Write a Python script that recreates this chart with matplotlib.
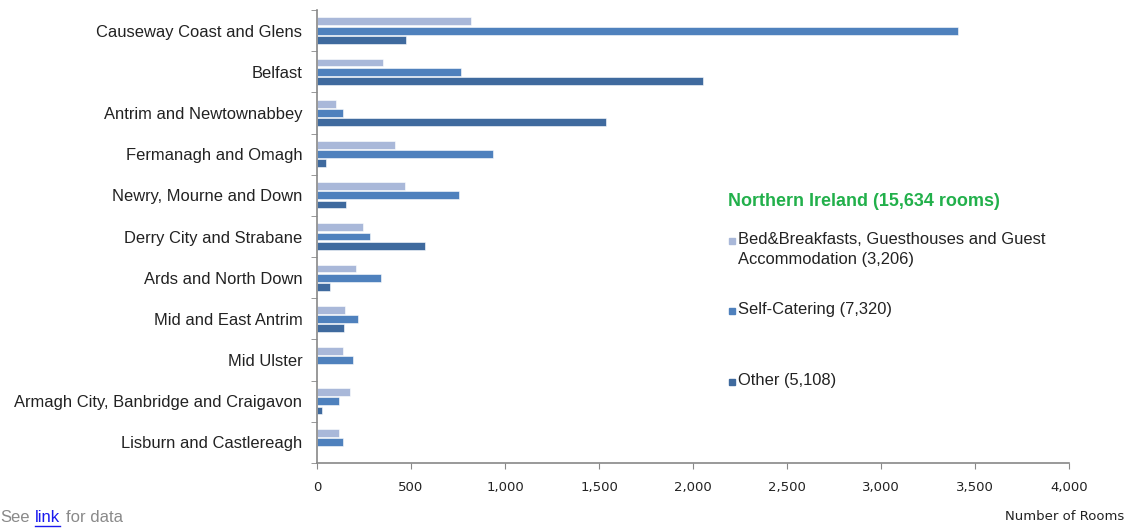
import matplotlib
matplotlib.use("Agg")
import matplotlib.pyplot as plt
from matplotlib.ticker import FuncFormatter
import numpy as np

plt.rcParams['font.family'] = ['Liberation Sans', 'DejaVu Sans']

councils = [
    "Causeway Coast and Glens", "Belfast", "Antrim and Newtownabbey",
    "Fermanagh and Omagh", "Newry, Mourne and Down", "Derry City and Strabane",
    "Ards and North Down", "Mid and East Antrim", "Mid Ulster",
    "Armagh City, Banbridge and Craigavon", "Lisburn and Castlereagh",
]
bnb = [819, 351, 101, 415, 466, 245, 209, 149, 138, 174, 115]
self_catering = [3410, 766, 138, 936, 754, 282, 342, 218, 191, 117, 138]
other = [472, 2052, 1537, 48, 154, 574, 69, 142, 0, 28, 0]

series_labels = [
    "Bed&Breakfasts, Guesthouses and Guest\nAccommodation (3,206)",
    "Self-Catering (7,320)",
    "Other (5,108)",
]
colors = ["#A9B8D9", "#4F81BD", "#3F6A9E"]
total_title = "Northern Ireland (15,634 rooms)"

fig = plt.figure(figsize=(11.33, 5.30), dpi=100)
ax = fig.add_axes([317 / 1133, 1 - 463 / 530, 752 / 1133, 453 / 530])

y = np.arange(len(councils))
off = 0.225
h = 0.19
for vals, dy, c in zip([bnb, self_catering, other], [-off, 0, off], colors):
    ax.barh(y + dy, vals, height=h, color=c, edgecolor="white", linewidth=0.4)

ax.set_ylim(len(councils) - 0.5, -0.5)
ax.set_xlim(0, 4000)
ax.set_xticks(np.arange(0, 4001, 500))
ax.xaxis.set_major_formatter(FuncFormatter(lambda v, p: f"{int(v):,}"))
ax.set_yticks(y)
ax.set_yticklabels(councils, fontsize=11.9, color="#222222")
ax.set_yticks(np.arange(-0.5, len(councils), 1), minor=True)
ax.tick_params(axis="y", which="major", length=0, pad=10.5)
ax.tick_params(axis="y", which="minor", length=4, color="#888888", direction="out")
ax.tick_params(axis="x", length=4, color="#888888", labelsize=9.5, pad=9, labelcolor="#222222")
for lab in ax.get_xticklabels():
    lab.set_family('DejaVu Sans')

for s in ["top", "right"]:
    ax.spines[s].set_visible(False)
for s in ["left", "bottom"]:
    ax.spines[s].set_color("#888888")
    ax.spines[s].set_linewidth(1.2)

# legend block drawn as text on the right
fig.text(728 / 1133, 1 - 202 / 530, total_title, color="#22B04B", fontsize=13,
         fontweight="bold", va="center")
legend_y = [241, 311, 382]
for ly, lab, c in zip(legend_y, series_labels, colors):
    fig.patches.append(plt.Rectangle((729 / 1133, 1 - (ly + 3) / 530), 6 / 1133, 6 / 530,
                                     transform=fig.transFigure, color=c))
    fig.text(738 / 1133, 1 - (ly - 9) / 530, lab, fontsize=11.9, color="#222222",
             va="top", linespacing=1.45)

fig.text(1124 / 1133, 1 - 517 / 530, "Number of Rooms", fontsize=9.5, ha="right",
         va="center", family='DejaVu Sans', color="#222222")
fig.text(0 / 1133, 1 - 518 / 530, "See", fontsize=12, color="#8A8A8A", va="center")
fig.text(35 / 1133, 1 - 518 / 530, "link", fontsize=12, color="#1A1AEE", va="center")
fig.add_artist(plt.Line2D([35 / 1133, 60 / 1133], [1 - 526 / 530, 1 - 526 / 530],
                          color="#1A1AEE", linewidth=1))
fig.text(66 / 1133, 1 - 518 / 530, "for data", fontsize=12, color="#8A8A8A", va="center")

fig.savefig("out.png", dpi=100)
